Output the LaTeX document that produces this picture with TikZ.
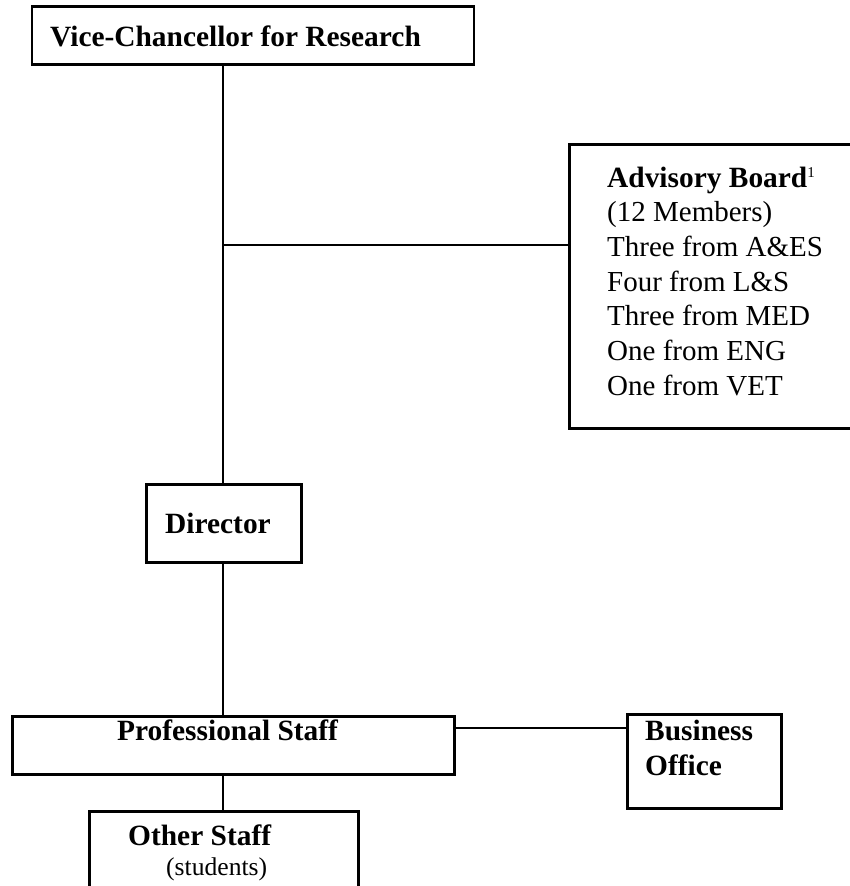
\documentclass[tikz,border=0pt]{standalone}
\usepackage{fontspec}
\setmainfont{Liberation Serif}
\begin{document}
\begin{tikzpicture}[x=1pt,y=-1pt,
  box/.style={draw,line width=2.8pt,inner sep=0pt,anchor=north west},
  conn/.style={line width=2.4pt},
  bt/.style={anchor=base west,inner sep=0pt,font=\fontsize{29.4}{34.7}\selectfont\bfseries},
  rt/.style={anchor=base west,inner sep=0pt,font=\fontsize{29}{34.7}\selectfont},
  st/.style={anchor=base west,inner sep=0pt,font=\fontsize{25.6}{30}\selectfont}]
\useasboundingbox (0,0) rectangle (849,886);
% boxes
\node[box,minimum width=442pt,minimum height=58pt] (vc) at (30.5,5) {};
\node[box,minimum width=300pt,minimum height=284pt] (adv) at (568,143) {};
\node[box,minimum width=155pt,minimum height=78pt] (dir) at (145,483) {};
\node[box,minimum width=442pt,minimum height=58pt] (pro) at (11,715) {};
\node[box,minimum width=154pt,minimum height=94pt] (bus) at (626,713) {};
\node[box,minimum width=269pt,minimum height=76pt] (oth) at (88,810) {};
% texts
\node[bt] (vct) at (50,46) {Vice-Chancellor for Research};
\node[bt] (advt) at (607,187) {Advisory Board\textsuperscript{\normalfont\fontsize{15}{15}\selectfont 1}};
\node[rt] (adv1) at (607,221.7) {(12 Members)};
\node[rt] (adv2) at (607,256.4) {Three from A\&ES};
\node[rt] (adv3) at (607,291.1) {Four from L\&S};
\node[rt] (adv4) at (607,325.8) {Three from MED};
\node[rt] (adv5) at (607,360.5) {One from ENG};
\node[rt] (adv6) at (607,395.2) {One from VET};
\node[bt] (dirt) at (165,533) {Director};
\node[bt] (prot) at (117,740) {Professional Staff};
\node[bt] (bust1) at (645,740) {Business};
\node[bt] (bust2) at (645,775) {Office};
\node[bt] (otht) at (128,845) {Other Staff};
\node[st] (otht2) at (166,875) {(students)};
% connectors
\coordinate (ja) at (223,245);
\coordinate (jb) at (0,728);
\draw[conn] (dir.north -| ja) -- (vc.south -| ja);
\draw[conn] (ja) -- (ja -| adv.west);
\draw[conn] (dir.south -| ja) -- (pro.north -| ja);
\draw[conn] (pro.east |- jb) -- (bus.west |- jb);
\draw[conn] (pro.south -| ja) -- (oth.north -| ja);
\end{tikzpicture}
\end{document}
